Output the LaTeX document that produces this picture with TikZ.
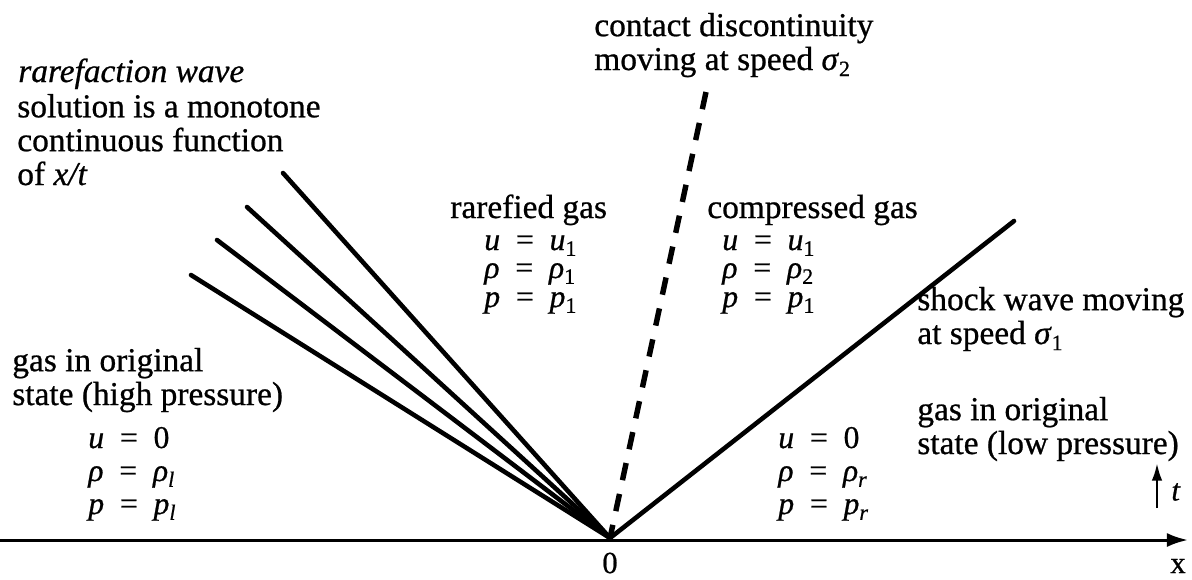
\documentclass[tikz,border=0pt]{standalone}
\usepackage{fontspec}
\setmainfont{Liberation Serif}[FakeBold=0.7]
\usetikzlibrary{arrows.meta}
\newcommand\sbs[1]{\raisebox{-0.4ex}{\fontsize{12.5}{12.5}\selectfont #1}}
\newcommand\vi[1]{\textit{#1}}
\newcommand\eqq{\hspace{0.5em}=\hspace{0.5em}}
\begin{document}
\begin{tikzpicture}[x=0.02cm,y=-0.02cm,
  lbl/.style={anchor=base west,inner sep=0pt,align=left,font=\fontsize{19}{19.28}\selectfont},
  eqs/.style={anchor=base west,inner sep=0pt,font=\fontsize{18}{19.28}\selectfont},
  wave/.style={line width=2.6pt,line cap=round},
  cdash/.style={line width=3.1pt,dash pattern=on 10pt off 8pt}]
\useasboundingbox (0,0) rectangle (1192,579);
% origin and axis
\coordinate (O) at (610,538);
\coordinate (axL) at (0,540);
\coordinate (axR) at (1188,540);
\draw[line width=1.7pt,-{Latex[length=12pt,width=8pt]}] (axL) -- (axR);
\node[inner sep=0pt,font=\fontsize{17.5}{19.3}\selectfont] (zero) at (610,563) {0};
\node[inner sep=0pt,font=\fontsize{17.5}{19.3}\selectfont] (xl) at (1178,566) {x};
% rarefaction fan
\coordinate (r1) at (283,173);
\coordinate (r2) at (247,207);
\coordinate (r3) at (217,240);
\coordinate (r4) at (191,275);
\foreach \r in {r1,r2,r3,r4} \draw[wave] (O) -- (\r);
% contact discontinuity
\coordinate (c1) at (706,92);
\draw[cdash] (c1) -- (O);
% shock
\coordinate (s1) at (1014,221);
\draw[wave] (O) -- (s1);
% t arrow
\coordinate (ta) at (1157,508);
\coordinate (tb) at (1157,463);
\draw[line width=1.5pt,-{Latex[length=10pt,width=6pt]}] (ta) -- (tb);
\node[inner sep=0pt,font=\fontsize{17.5}{19.3}\selectfont] (tl) at (1176,492) {\vi{t}};
% labels (anchor = baseline of last line)
\node[lbl] (rw) at (18,82) {\itshape rarefaction wave};
\node[lbl] (sol) at (17,185) {solution is a monotone\\continuous function\\of \vi{x/t}};
\node[lbl] (cd) at (594,70) {contact discontinuity\\moving at speed \vi{σ}\sbs{2}};
\node[lbl] (rg) at (450,218) {rarefied gas};
\node[eqs] (rgu) at (484,250) {\vi{u}\eqq\vi{u}\sbs{1}};
\node[eqs] (rgr) at (484,278) {\vi{ρ}\eqq\vi{ρ}\sbs{1}};
\node[eqs] (rgp) at (484,307) {\vi{p}\eqq\vi{p}\sbs{1}};
\node[lbl] (cg) at (707,218) {compressed gas};
\node[eqs] (cgu) at (722,250) {\vi{u}\eqq\vi{u}\sbs{1}};
\node[eqs] (cgr) at (722,278) {\vi{ρ}\eqq\vi{ρ}\sbs{2}};
\node[eqs] (cgp) at (722,307) {\vi{p}\eqq\vi{p}\sbs{1}};
\node[lbl] (sw) at (917,344) {shock wave moving\\at speed \vi{σ}\sbs{1}};
\node[lbl] (gr) at (917,454) {gas in original\\state (low pressure)};
\node[eqs] (gru) at (778,448) {\vi{u}\eqq 0};
\node[eqs] (grr) at (778,481) {\vi{ρ}\eqq\vi{ρ}\sbs{\vi{r}}};
\node[eqs] (grp) at (778,514) {\vi{p}\eqq\vi{p}\sbs{\vi{r}}};
\node[lbl] (gl) at (12,405) {gas in original\\state (high pressure)};
\node[eqs] (glu) at (88,448) {\vi{u}\eqq 0};
\node[eqs] (glr) at (88,481) {\vi{ρ}\eqq\vi{ρ}\sbs{\vi{l}}};
\node[eqs] (glp) at (88,514) {\vi{p}\eqq\vi{p}\sbs{\vi{l}}};
\end{tikzpicture}
\end{document}
